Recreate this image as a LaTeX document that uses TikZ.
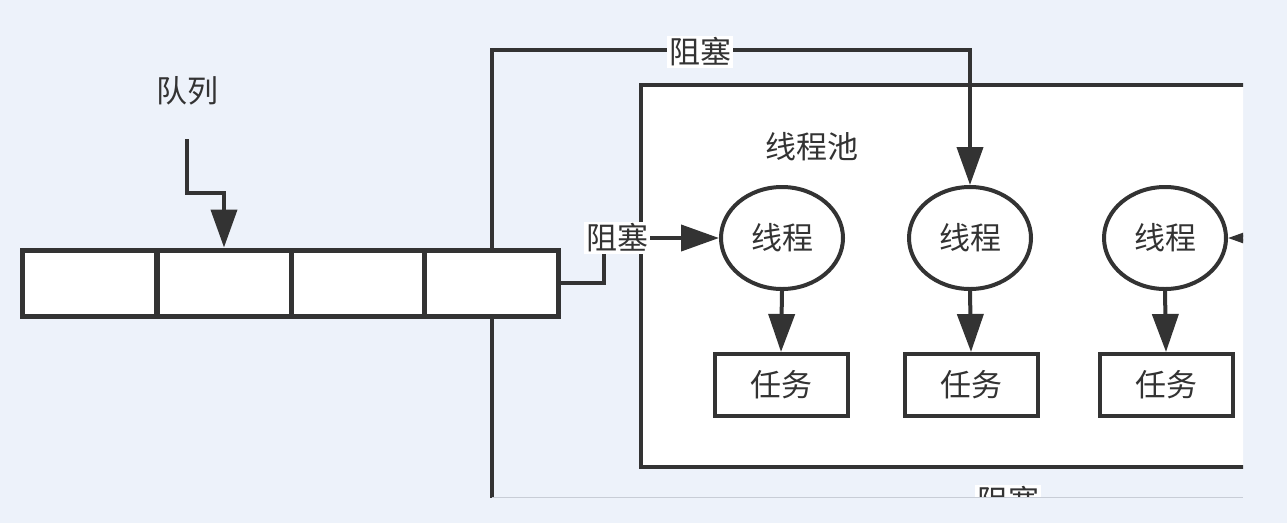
\documentclass[tikz,border=0pt]{standalone}
\usepackage{fontspec}
\newfontfamily\cjk{Noto Sans CJK SC}
\usetikzlibrary{arrows.meta,shapes.geometric}
\definecolor{bgblue}{RGB}{237,242,250}
\definecolor{ink}{RGB}{51,51,51}
\definecolor{edgegray}{RGB}{200,205,214}
\tikzset{
  x=1pt, y=-1pt,
  every node/.style={font=\cjk\fontsize{31}{31}\selectfont, text=ink},
  cell/.style={draw=ink, line width=5pt, fill=white, minimum width=134pt, minimum height=66pt, inner sep=0pt},
  thread/.style={draw=ink, line width=4pt, fill=white, ellipse, minimum width=122pt, minimum height=102pt, inner sep=0pt},
  task/.style={draw=ink, line width=4pt, fill=white, minimum width=133pt, minimum height=62pt, inner sep=0pt},
  conn/.style={draw=ink, line width=4pt},
  arr/.style={conn, -{Triangle[length=38pt,width=26pt]}},
  tag/.style={fill=white, inner sep=2pt},
}
\begin{document}
\begin{tikzpicture}
\fill[bgblue] (0,0) rectangle (1287,523);
\useasboundingbox (0,0) rectangle (1287,523);
\begin{scope}
\clip (0,0) rectangle (1243,497);
% thread pool box
\node[draw=ink, line width=4pt, fill=white, minimum width=660pt, minimum height=382pt, inner sep=0pt, outer sep=0pt, anchor=north west] (pool) at (641,84.5) {};
\node (pooltitle) at (812,147) {线程池};
% queue
\node[cell] (c1) at (89.5,283) {};
\node[cell] (c2) at (224,283) {};
\node[cell] (c3) at (358,283) {};
\node[cell] (c4) at (491.5,283) {};
\node (qlabel) at (187,91) {队列};
\coordinate (qs) at (187,139);
\draw[arr] (qs) -- ++(0,54) -| (c2.north);
% threads and tasks
\node[thread] (e1) at (782,238) {线程};
\node[thread] (e2) at (970,238) {线程};
\node[thread] (e3) at (1165,238) {线程};
\node[task] (t1) at (781,385) {任务};
\node[task] (t2) at (971,385) {任务};
\node[task] (t3) at (1166,385) {任务};
\draw[arr] (e1.south) -- (t1.north);
\draw[arr] (e2.south) -- (t2.north);
\draw[arr] (e3.south) -- (t3.north);
% blocking paths
\coordinate (topy) at (0,50);
\draw[arr] (c4.north) -- (c4.north |- topy) -| (e2.north);
\node[tag] (btop) at (700,52) {阻塞};
\coordinate (rx) at (604,0);
\draw[arr] (c4.east) -- (c4.east -| rx) |- (e1.west);
\node[tag] (bright) at (617,238) {阻塞};
\coordinate (boty) at (0,515);
\coordinate (farx) at (1300,0);
\draw[arr] (c4.south) -- (c4.south |- boty) -| (farx |- e3.east) -- (e3.east);
\node[tag] (bbot) at (1008,501) {阻塞};
\end{scope}
\draw[edgegray, line width=1pt] (491.5,497) -- (1243,497);
\end{tikzpicture}
\end{document}
